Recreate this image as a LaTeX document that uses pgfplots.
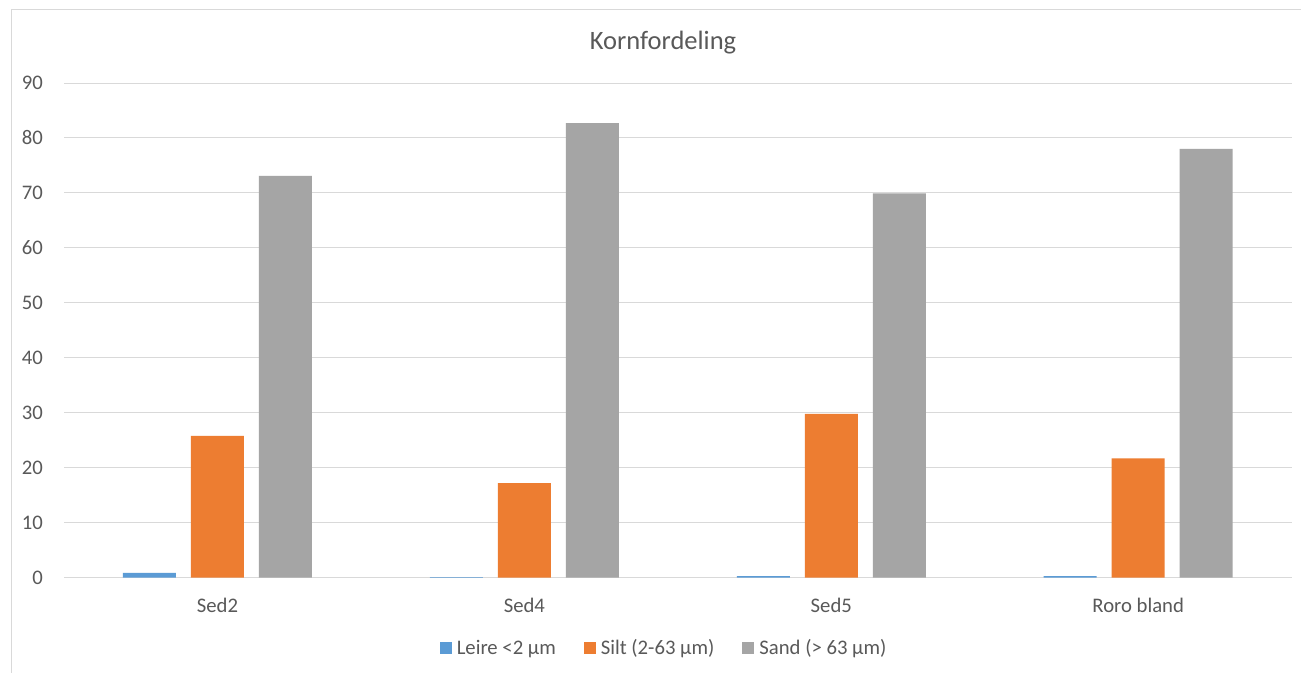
\documentclass[border=0pt]{standalone}
\usepackage{pgfplots}
\pgfplotsset{compat=1.18}
\usepackage{fontspec}
\setmainfont{Carlito}
\definecolor{cblue}{HTML}{5B9BD5}
\definecolor{corange}{HTML}{ED7D31}
\definecolor{cgray}{HTML}{A5A5A5}
\definecolor{ctext}{HTML}{595959}
\definecolor{cgrid}{HTML}{D9D9D9}
\begin{document}
\begin{tikzpicture}[x=1pt,y=1pt]
\path[use as bounding box, fill=white] (0,0) rectangle (1301,672);
\draw[cgrid, line width=1pt] (11,-5) -- (11,662) -- (1310,662);
\node[font=\fontsize{26.5}{30}\selectfont, text=ctext] at (663,629) {Kornfordeling};
\begin{axis}[
  at={(64pt,94.3pt)}, anchor=south west,
  scale only axis, width=1227.7pt, height=494.7pt,
  xmin=-0.5, xmax=3.5, ymin=0, ymax=90,
  ytick={0,10,...,90},
  xtick={0,1,2,3},
  xticklabels={Sed2,Sed4,Sed5,Roro bland},
  ymajorgrids, grid style={cgrid, line width=1pt},
  axis line style={draw=none},
  major tick length=0pt,
  tick style={draw=none},
  /pgf/number format/assume math mode=true,
  ticklabel style={font=\fontsize{20.7}{24}\selectfont, text=ctext, inner sep=0pt},
  yticklabel style={anchor=east, xshift=-21pt},
  xticklabel style={anchor=north, yshift=-20pt},
  ybar=15pt, bar width=53pt,
  legend columns=3,
  legend style={draw=none, fill=none, at={(0.488,-0.142)}, anchor=center,
    font=\fontsize{20.7}{24}\selectfont, text=ctext,
    nodes={inner sep=0pt},
    /tikz/every even column/.append style={column sep=28pt}},
  legend image code/.code={\fill[#1] (0pt,-6pt) rectangle (12pt,6pt); \path (17pt,0pt);},
]
\addplot[fill=cblue, draw=none] coordinates {(0,0.9) (1,0.1) (2,0.3) (3,0.3)};
\addplot[fill=corange, draw=none] coordinates {(0,25.8) (1,17.2) (2,29.8) (3,21.7)};
\addplot[fill=cgray, draw=none] coordinates {(0,73.1) (1,82.7) (2,69.9) (3,78.0)};
\legend{Leire <2 µm, Silt (2-63 µm), Sand (> 63 µm)}
\end{axis}
\end{tikzpicture}
\end{document}
